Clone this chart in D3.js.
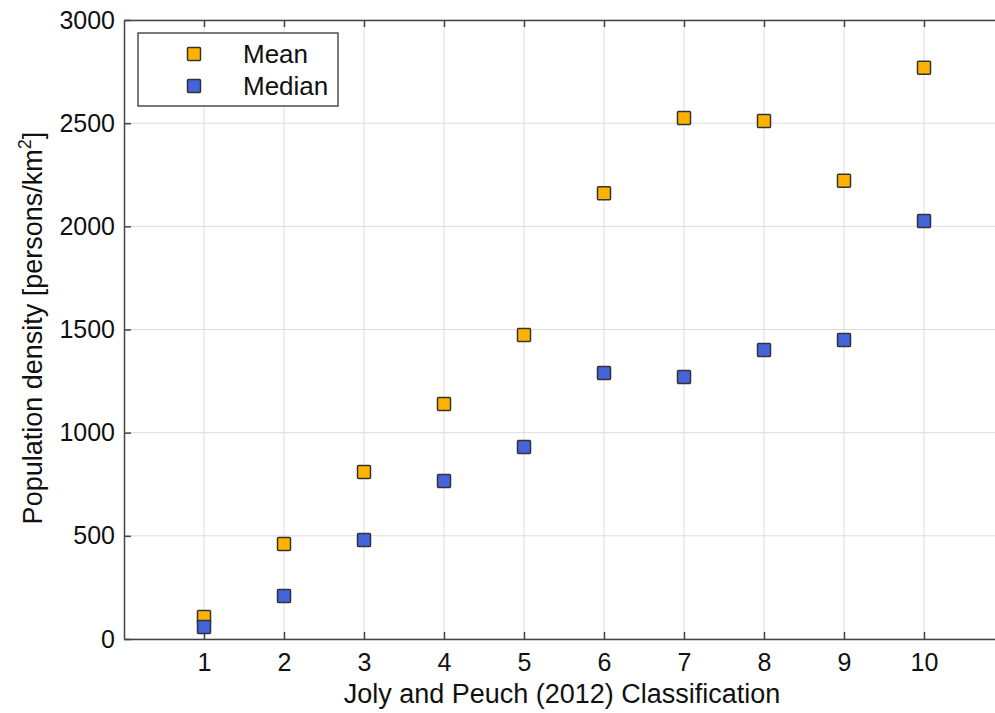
<!DOCTYPE html>
<html>
<head>
<meta charset="utf-8">
<script src="https://cdn.jsdelivr.net/npm/d3@7"></script>
<style>
  body { margin: 0; background: #fff; }
  text { font-family: Arial, "Liberation Sans", sans-serif; fill: #111; }
</style>
</head>
<body>
<div id="chart"></div>
<script>
// data
const classes = [1, 2, 3, 4, 5, 6, 7, 8, 9, 10];
const meanVals = [107, 460, 809, 1139, 1473, 2160, 2525, 2511, 2221, 2768];
const medianVals = [58, 208, 480, 766, 930, 1289, 1270, 1401, 1449, 2026];
const yTicks = [0, 500, 1000, 1500, 2000, 2500, 3000];
const seriesNames = ["Mean", "Median"];
const seriesColors = ["#ffb300", "#4564dc"];

const width = 995, height = 713;
const m = { left: 124, top: 20, bottom: 639 };

const svg = d3.select("#chart").append("svg")
  .attr("width", width)
  .attr("height", height);

const x = d3.scaleLinear().domain([0, 11]).range([m.left, 1004]);
const y = d3.scaleLinear().domain([0, 3000]).range([m.bottom, m.top]);

// grid
svg.append("g").selectAll("line").data(classes).enter().append("line")
  .attr("x1", d => x(d)).attr("x2", d => x(d))
  .attr("y1", m.top).attr("y2", m.bottom)
  .attr("stroke", "#dcdcdc").attr("stroke-width", 1);
svg.append("g").selectAll("line").data(yTicks).enter().append("line")
  .attr("x1", m.left).attr("x2", width)
  .attr("y1", d => y(d)).attr("y2", d => y(d))
  .attr("stroke", "#dcdcdc").attr("stroke-width", 1);

// axes (ticks pointing inward)
const xAxis = svg.append("g")
  .attr("transform", `translate(0,${m.bottom})`)
  .call(d3.axisBottom(x).tickValues(classes).tickSizeInner(-7).tickSizeOuter(0).tickPadding(14));
const xTop = svg.append("g")
  .attr("transform", `translate(0,${m.top})`)
  .call(d3.axisTop(x).tickValues(classes).tickSizeInner(-7).tickSizeOuter(0).tickFormat(""));
const yAxis = svg.append("g")
  .attr("transform", `translate(${m.left},0)`)
  .call(d3.axisLeft(y).tickValues(yTicks).tickFormat(d3.format("d"))
    .tickSizeInner(-7).tickSizeOuter(0).tickPadding(9));

[xAxis, xTop, yAxis].forEach(g => {
  g.select(".domain").attr("stroke", "#444").attr("stroke-width", 1.5);
  g.selectAll(".tick line").attr("stroke", "#444").attr("stroke-width", 1.5);
  g.selectAll(".tick text").attr("font-size", 25).attr("fill", "#111")
    .style("font-family", "Arial, 'Liberation Sans', sans-serif");
});

// markers
const series = [meanVals, medianVals];
const sz = 13;
series.forEach((vals, s) => {
  svg.append("g").selectAll("rect").data(vals).enter().append("rect")
    .attr("x", (d, i) => x(classes[i]) - sz / 2)
    .attr("y", d => y(d) - sz / 2)
    .attr("width", sz).attr("height", sz)
    .attr("rx", 1)
    .attr("fill", seriesColors[s])
    .attr("stroke", "#333").attr("stroke-width", 1.5);
});

// legend
const lg = svg.append("g");
lg.append("rect")
  .attr("x", 138).attr("y", 33).attr("width", 200).attr("height", 73)
  .attr("fill", "#fff").attr("stroke", "#333").attr("stroke-width", 1.3);
seriesNames.forEach((name, i) => {
  const cy = 54 + i * 32;
  lg.append("rect")
    .attr("x", 194 - sz / 2).attr("y", cy - sz / 2)
    .attr("width", sz).attr("height", sz).attr("rx", 1)
    .attr("fill", seriesColors[i])
    .attr("stroke", "#333").attr("stroke-width", 1.5);
  lg.append("text")
    .attr("x", 243).attr("y", cy)
    .attr("dominant-baseline", "central")
    .attr("font-size", 26)
    .text(name);
});

// axis labels
svg.append("text")
  .attr("x", 562).attr("y", 703)
  .attr("text-anchor", "middle")
  .attr("font-size", 27)
  .text("Joly and Peuch (2012) Classification");

const yl = svg.append("text")
  .attr("transform", `translate(42,328) rotate(-90)`)
  .attr("text-anchor", "middle")
  .attr("font-size", 27);
yl.append("tspan").text("Population density [persons/km");
yl.append("tspan").attr("font-size", 18).attr("dy", -11).text("2");
yl.append("tspan").attr("dy", 11).text("]");
</script>
</body>
</html>
